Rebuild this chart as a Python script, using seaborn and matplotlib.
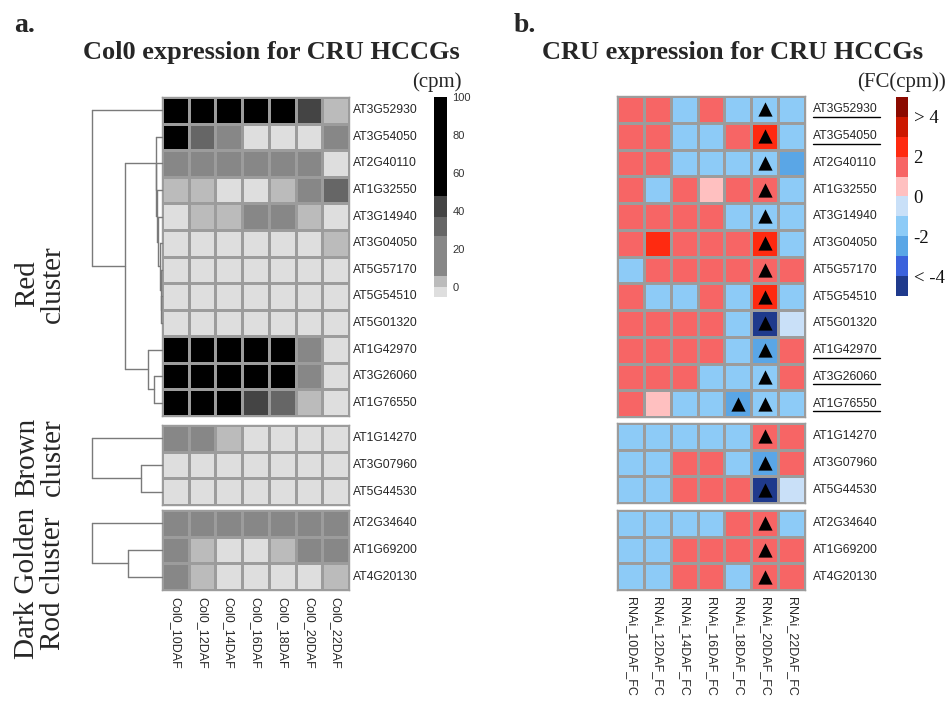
import numpy as np
import pandas as pd
import matplotlib
matplotlib.use("Agg")
import matplotlib.pyplot as plt
from matplotlib.colors import ListedColormap, BoundaryNorm
from matplotlib.cm import ScalarMappable
from matplotlib.lines import Line2D
import seaborn as sns

# ---------------- data ----------------
col0_columns = ["Col0_10DAF", "Col0_12DAF", "Col0_14DAF", "Col0_16DAF",
                "Col0_18DAF", "Col0_20DAF", "Col0_22DAF"]
rnai_columns = ["RNAi_10DAF_FC", "RNAi_12DAF_FC", "RNAi_14DAF_FC", "RNAi_16DAF_FC",
                "RNAi_18DAF_FC", "RNAi_20DAF_FC", "RNAi_22DAF_FC"]

red_genes = ["AT3G52930", "AT3G54050", "AT2G40110", "AT1G32550", "AT3G14940",
             "AT3G04050", "AT5G57170", "AT5G54510", "AT5G01320", "AT1G42970",
             "AT3G26060", "AT1G76550"]
brown_genes = ["AT1G14270", "AT3G07960", "AT5G44530"]
golden_genes = ["AT2G34640", "AT1G69200", "AT4G20130"]

cluster_names = ["Red\ncluster", "Brown\ncluster", "Dark Golden\nRod cluster"]

# Col0 expression (cpm)
col0_red = [
    [118, 105, 112, 98, 86, 41, 4],
    [64, 31, 18, 0, 0, 0, 16],
    [15, 14, 16, 15, 14, 13, 0],
    [3, 3, 0, 0, 3, 14, 31],
    [0, 3, 4, 13, 15, 3, 0],
    [0, 0, 0, 0, 0, 0, 3],
    [0, 0, 0, 0, 0, 0, 0],
    [0, 0, 0, 0, 0, 0, 0],
    [0, 0, 0, 0, 0, 0, 0],
    [140, 152, 160, 148, 120, 17, 0],
    [132, 145, 150, 138, 110, 15, 0],
    [90, 82, 66, 42, 30, 4, 0],
]
col0_brown = [
    [14, 13, 3, 0, 0, 0, 0],
    [0, 0, 0, 0, 0, 0, 0],
    [0, 0, 0, 0, 0, 0, 0],
]
col0_golden = [
    [20, 19, 21, 20, 18, 19, 17],
    [16, 3, 0, 0, 3, 15, 16],
    [17, 4, 0, 0, 0, 0, 3],
]

# CRU fold change (FC(cpm))
fc_red = [
    [1.4, 1.3, -1.6, 1.5, -1.2, -1.5, -1.4],
    [1.6, 1.5, -1.3, -1.4, 1.2, 2.6, -1.5],
    [1.5, 1.4, -1.5, -1.6, -1.3, -1.4, -2.4],
    [1.3, -1.5, 1.6, 0.5, 1.4, 1.7, -1.3],
    [1.5, 1.6, 1.4, 1.5, -1.3, -1.6, -1.4],
    [1.4, 2.7, 1.5, 1.6, 1.3, 2.5, -1.5],
    [-1.4, 1.5, 1.6, 1.4, 1.3, 1.8, 1.5],
    [1.5, -1.4, -1.3, 1.6, -1.5, 2.8, -1.6],
    [1.6, 1.4, 1.5, 1.3, -1.5, -4.6, -0.6],
    [1.5, 1.6, 1.4, 1.5, -1.4, -2.3, 1.5],
    [1.4, 1.5, 1.6, -1.4, -1.5, -1.7, 1.4],
    [1.3, 0.4, -1.5, -1.6, -2.5, -1.4, -1.5],
]
fc_brown = [
    [-1.5, -1.4, -1.6, -1.5, -1.3, 1.6, 1.5],
    [-1.4, -1.5, 1.5, 1.6, -1.4, -2.3, 1.4],
    [-1.6, -1.5, 1.4, 1.5, 1.6, -4.8, -0.5],
]
fc_golden = [
    [-1.5, -1.4, -1.5, -1.6, 1.5, 1.7, -1.4],
    [-1.4, -1.5, 1.5, 1.4, 1.6, 1.8, 1.5],
    [-1.5, -1.6, 1.4, 1.5, -1.3, 1.6, 1.4],
]

# significance marks (gene, column)
significant = ([(g, "RNAi_20DAF_FC") for g in red_genes + brown_genes + golden_genes]
               + [("AT1G76550", "RNAi_18DAF_FC")])
underlined_genes = ["AT3G52930", "AT3G54050", "AT1G42970", "AT3G26060", "AT1G76550"]

# dendrogram merges: (left, right, height relative to root)
red_linkage = [(7, 8, 0.01), (6, 12, 0.02), (5, 13, 0.035), (4, 14, 0.06),
               (3, 15, 0.07), (2, 16, 0.08), (1, 17, 0.09), (10, 11, 0.11),
               (9, 19, 0.20), (18, 20, 0.53), (0, 21, 1.0)]
brown_linkage = [(1, 2, 0.30), (0, 3, 1.0)]
golden_linkage = [(1, 2, 0.49), (0, 3, 1.0)]

cpm_bounds = [-5, 0.5, 6, 27, 37, 48, 100]
cpm_colors = ["#DEDEDE", "#BBBBBB", "#878787", "#666666", "#444444", "#000000"]
cpm_ticks = [0, 20, 40, 60, 80, 100]

fc_bounds = [-5, -4, -3, -2, -1, 0, 1, 2, 3, 4, 5]
fc_colors = ["#1F3A8C", "#3B62DC", "#5AA6E6", "#8DCBF7", "#C9E0F8",
             "#FFC0C0", "#F76565", "#FF2A10", "#CC1800", "#8B0A00"]
fc_ticks = [4, 2, 0, -2, -4]
fc_ticklabels = ["> 4", "2", "0", "-2", "< -4"]

# ---------------- style ----------------
sns.set_theme(style="white")
plt.rcParams["font.family"] = ["Liberation Sans", "DejaVu Sans"]
SERIF = ["Liberation Serif", "DejaVu Serif"]

W, H = 950, 705
fig = plt.figure(figsize=(W / 100, H / 100), dpi=100)
fig.patch.set_facecolor("white")


def px_axes(left, top, width, height):
    return fig.add_axes([left / W, 1 - (top + height) / H, width / W, height / H])


grid_color = "#9C9C9C"
cpm_cmap = ListedColormap(cpm_colors)
cpm_norm = BoundaryNorm(cpm_bounds, cpm_cmap.N, clip=True)
fc_cmap = ListedColormap(fc_colors)
fc_norm = BoundaryNorm(fc_bounds, fc_cmap.N, clip=True)


def draw_block(ax, values, genes, cols, cmap, norm, show_x, ypad):
    df = pd.DataFrame(values, index=genes, columns=cols)
    sns.heatmap(df, ax=ax, cmap=cmap, norm=norm, cbar=False,
                linewidths=1.0, linecolor=grid_color,
                xticklabels=show_x, yticklabels=True)
    ax.yaxis.tick_right()
    ax.set_xlabel("")
    ax.set_ylabel("")
    ax.set_yticks(np.arange(len(genes)) + 0.5)
    ax.set_yticklabels(genes, rotation=0, fontsize=8.7, color="#262626",
                       ha="left", va="center")
    ax.tick_params(axis="y", length=0, pad=ypad)
    if show_x:
        ax.set_xticks(np.arange(len(cols)) + 0.5)
        ax.set_xticklabels(cols, rotation=270, fontsize=9, color="#262626",
                           ha="center", va="top")
        ax.tick_params(axis="x", length=0, pad=5)
    for sp in ax.spines.values():
        sp.set_visible(True)
        sp.set_color(grid_color)
        sp.set_linewidth(1.0)
    return df


def draw_dendrogram(ax, linkage, n, color="#7A7A7A"):
    pos = {i: (0.0, i + 0.5) for i in range(n)}
    for k, (a, b, h) in enumerate(linkage):
        xa, ya = pos[a]
        xb, yb = pos[b]
        ax.plot([xa, h], [ya, ya], color=color, lw=1.0, clip_on=False)
        ax.plot([xb, h], [yb, yb], color=color, lw=1.0, clip_on=False)
        ax.plot([h, h], [ya, yb], color=color, lw=1.0, clip_on=False)
        pos[n + k] = (h, (ya + yb) / 2)
    ax.set_xlim(1.0, 0.0)
    ax.set_ylim(n, 0)
    ax.axis("off")


# ---------------- panel a ----------------
a_blocks = [(97, 319), (425, 80), (510, 80)]
col0_sets = [col0_red, col0_brown, col0_golden]
gene_sets = [red_genes, brown_genes, golden_genes]
linkages = [red_linkage, brown_linkage, golden_linkage]
for i, ((top, h), vals, genes, link) in enumerate(zip(a_blocks, col0_sets, gene_sets, linkages)):
    ax = px_axes(162, top, 187, h)
    draw_block(ax, vals, genes, col0_columns, cpm_cmap, cpm_norm, i == 2, 2.5)
    dax = px_axes(92, top, 70, h)
    draw_dendrogram(dax, link, len(genes))

cax_a = px_axes(434, 97, 13, 200)
cb_a = fig.colorbar(ScalarMappable(norm=cpm_norm, cmap=cpm_cmap), cax=cax_a,
                    spacing="proportional", ticks=cpm_ticks)
cb_a.outline.set_visible(False)
cb_a.minorticks_off()
cax_a.set_ylim(-5, 100)
cax_a.tick_params(which="both", length=0, labelsize=8, labelcolor="#333333", pad=4)

# ---------------- panel b ----------------
b_blocks = [(96, 321), (423, 80), (510, 80)]
fc_sets = [fc_red, fc_brown, fc_golden]
b_axes = []
for i, ((top, h), vals, genes) in enumerate(zip(b_blocks, fc_sets, gene_sets)):
    ax = px_axes(617, top, 188, h)
    df = draw_block(ax, vals, genes, rnai_columns, fc_cmap, fc_norm, i == 2, 6)
    xs, ys = [], []
    for g, c in significant:
        if g in df.index:
            xs.append(df.columns.get_loc(c) + 0.5)
            ys.append(df.index.get_loc(g) + 0.5)
    ax.scatter(xs, ys, marker="^", s=105, color="black", zorder=5, linewidths=0)
    b_axes.append(ax)

cax_b = px_axes(896, 97, 12, 199)
cb_b = fig.colorbar(ScalarMappable(norm=fc_norm, cmap=fc_cmap), cax=cax_b,
                    ticks=fc_ticks)
cb_b.outline.set_visible(False)
cb_b.minorticks_off()
cb_b.set_ticklabels(fc_ticklabels)
cax_b.tick_params(which="both", length=0, pad=4)
for t in cax_b.get_yticklabels():
    t.set_fontfamily(SERIF)
    t.set_fontsize(13.5)
    t.set_color("#111111")

# ---------------- texts ----------------
def ftext(x, y, s, **kw):
    fig.text(x / W, 1 - y / H, s, **kw)

ftext(14, 25, "a.", fontsize=20, fontweight="bold", family=SERIF, ha="left", va="center")
ftext(514, 25, "b.", fontsize=20, fontweight="bold", family=SERIF, ha="left", va="center")
ftext(271, 53, "Col0 expression for CRU HCCGs", fontsize=19, fontweight="bold",
      family=SERIF, ha="center", va="center")
ftext(733, 53, "CRU expression for CRU HCCGs", fontsize=19, fontweight="bold",
      family=SERIF, ha="center", va="center")
ftext(437, 82, "(cpm)", fontsize=15, family=SERIF, ha="center", va="center")
ftext(902, 82, "(FC(cpm))", fontsize=15, family=SERIF, ha="center", va="center")

for name, yc in zip(cluster_names, [284, 457, 583]):
    ftext(40, yc, name, fontsize=21, family=SERIF, rotation=90, ha="center",
          va="center", multialignment="center", linespacing=1.0)

# underline selected gene labels in panel b
fig.canvas.draw()
renderer = fig.canvas.get_renderer()
for ax in b_axes:
    for lbl in ax.get_yticklabels():
        if lbl.get_text() in underlined_genes:
            bb = lbl.get_window_extent(renderer)
            y = bb.y0 - 1.5
            fig.add_artist(Line2D([bb.x0 / W, (bb.x1 + 2) / W], [y / H, y / H],
                                  color="black", lw=1.0))

fig.savefig("out.png", dpi=100)
